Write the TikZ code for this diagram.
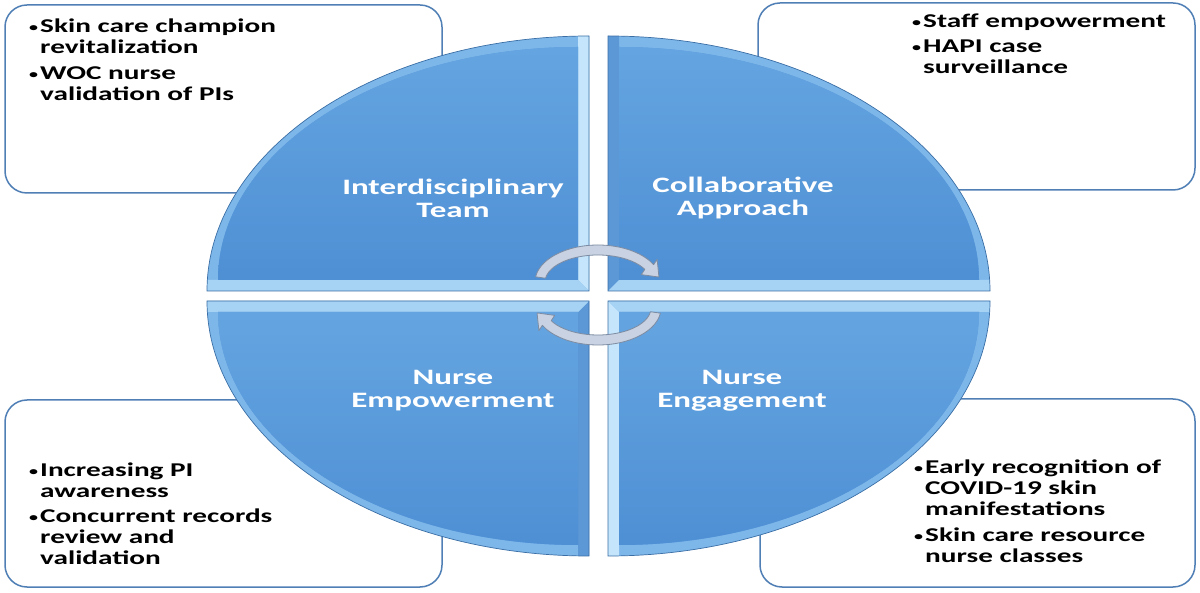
\documentclass[tikz,border=0pt]{standalone}
\usepackage{fontspec}
\newfontfamily\cfont{Carlito}[FakeStretch=1.5]
\usetikzlibrary{calc}
\definecolor{boxedge}{HTML}{4F7FB5}
\definecolor{qedge}{HTML}{3A6EA5}
\definecolor{qarc}{HTML}{7DB7EA}
\definecolor{qlight}{HTML}{C4E5FB}
\definecolor{qmid}{HTML}{5C98D6}
\definecolor{qhor}{HTML}{A6D3F4}
\definecolor{facetop}{HTML}{6AAAE4}
\definecolor{facebot}{HTML}{4F90D5}
\definecolor{arrfill}{HTML}{C8D2E2}
\definecolor{arredge}{HTML}{7D8CA3}
\newcommand{\bul}{\makebox[11pt][l]{\raisebox{1pt}{\fontsize{12}{12}\selectfont\textbullet}}}
% #1 corner, #2 xscale, #3 yscale, #4 vertical strip colour, #5 horizontal strip colour
\newcommand{\myquad}[5]{%
\begin{scope}[shift={#1}, xscale=#2, yscale=#3]
  \fill[qarc] (0,0) -- (0,255) arc[start angle=90,end angle=0,x radius=382,y radius=255] -- cycle;
  \begin{scope}
    \clip (0,0) -- (0,255) arc[start angle=90,end angle=0,x radius=382,y radius=255] -- cycle;
    \fill[#4] (0,0) -- (11,11) -- (11,262) -- (0,262) -- cycle;
    \fill[#5] (0,0) -- (390,0) -- (390,11) -- (11,11) -- cycle;
  \end{scope}
  \fill[facebot] (11,11) -- (11,244) arc[start angle=90,end angle=0,x radius=360,y radius=233] -- cycle;
  \draw[qedge, line width=0.7pt] (0,0) -- (0,255) arc[start angle=90,end angle=0,x radius=382,y radius=255] -- cycle;
\end{scope}}
\newcommand{\cyclearrow}{%
  \filldraw[fill=arrfill, draw=arredge, line width=0.8pt, line join=round]
    (535.61,315.15) arc[start angle=172,end angle=28,x radius=63,y radius=37]
    -- (657.13,332.65) -- (658.93,314.94) -- (641.29,317.39) -- (644.80,322.68)
    arc[start angle=28,end angle=172,x radius=53,y radius=27] -- cycle;}
\begin{document}
\begin{tikzpicture}[x=1pt,y=1pt,
  infobox/.style={draw=boxedge, line width=1.5pt, fill=white, rounded corners=22pt},
  boxtext/.style={font=\cfont\bfseries\fontsize{19.5}{21}\selectfont, text=black, inner sep=0pt},
  qlabel/.style={font=\cfont\bfseries\fontsize{22}{23}\selectfont, text=white, inner sep=0pt}]
\useasboundingbox (0,0) rectangle (1200,592);
\fill[white] (0,0) rectangle (1200,592);
% information boxes
\draw[infobox] (5,399) rectangle (442,587);
\draw[infobox] (758,402) rectangle (1195,589);
\draw[infobox] (5,5) rectangle (442,192);
\draw[infobox] (760,5) rectangle (1195,193);
% quadrants
\myquad{(589,301)}{-1}{1}{qlight}{qhor}
\myquad{(608,301)}{1}{1}{qmid}{qhor}
\myquad{(589,291)}{-1}{-1}{qmid}{qhor}
\myquad{(608,291)}{1}{-1}{qlight}{qhor}
% soft highlight on faces
\begin{scope}
  \clip (578,312) -- (218,312) arc[start angle=180,end angle=90,x radius=360,y radius=233] -- cycle
        (619,312) -- (619,545) arc[start angle=90,end angle=0,x radius=360,y radius=233] -- cycle;
  \shade[top color=facetop, bottom color=facebot, opacity=0.8] (218,312) rectangle (980,545);
\end{scope}
\begin{scope}
  \clip (578,280) -- (218,280) arc[start angle=180,end angle=270,x radius=360,y radius=233] -- cycle
        (619,280) -- (619,47) arc[start angle=270,end angle=360,x radius=360,y radius=233] -- cycle;
  \shade[top color=facetop, bottom color=facebot, opacity=0.8] (218,47) rectangle (980,280);
\end{scope}
% cycle arrows
\cyclearrow
\begin{scope}[rotate around={180:(598,297)}]
\cyclearrow
\end{scope}
% quadrant labels
\node[qlabel, anchor=base] (ql1) at (453,397) {\begin{tabular}[t]{@{}c@{}}Interdisciplinary\\Team\end{tabular}};
\node[qlabel, anchor=base] (ql2) at (743,399) {\begin{tabular}[t]{@{}c@{}}Collaborative\\Approach\end{tabular}};
\node[qlabel, anchor=base] (ql3) at (453,207) {\begin{tabular}[t]{@{}c@{}}Nurse\\Empowerment\end{tabular}};
\node[qlabel, anchor=base] (ql4) at (742,207) {\begin{tabular}[t]{@{}c@{}}Nurse\\Engagement\end{tabular}};
% box texts
\node[boxtext, anchor=base west] (bt1) at (29,559) {\begin{tabular}[t]{@{}l@{}l@{}}\bul & Skin care champion\\ & revitalization\\[5pt] \bul & WOC nurse\\ & validation of PIs\end{tabular}};
\node[boxtext, anchor=base west] (bt2) at (912,564) {\begin{tabular}[t]{@{}l@{}l@{}}\bul & Staff empowerment\\[4pt] \bul & HAPI case\\ & surveillance\end{tabular}};
\node[boxtext, anchor=base west] (bt3) at (29,115) {\begin{tabular}[t]{@{}l@{}l@{}}\bul & Increasing PI\\ & awareness\\[4pt] \bul & Concurrent records\\ & review and\\ & validation\end{tabular}};
\node[boxtext, anchor=base west] (bt4) at (914,118) {\begin{tabular}[t]{@{}l@{}l@{}}\bul & Early recognition of\\ & COVID-19 skin\\ & manifestations\\[5pt] \bul & Skin care resource\\ & nurse classes\end{tabular}};
\end{tikzpicture}
\end{document}
